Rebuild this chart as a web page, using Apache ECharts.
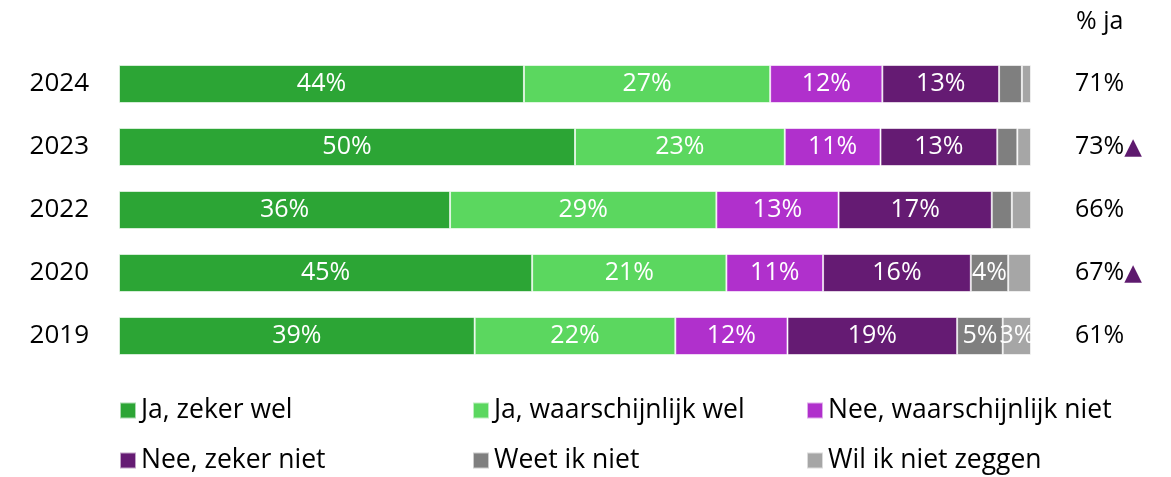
<!DOCTYPE html>
<html>
<head>
<meta charset="utf-8">
<script src="https://cdn.jsdelivr.net/npm/echarts@6/dist/echarts.min.js"></script>
<style>html,body{margin:0;padding:0;background:#fff}#c{width:1171px;height:477px}</style>
</head>
<body>
<div id="c"></div>
<script>
const years = ['2024', '2023', '2022', '2020', '2019'];
const seriesNames = ['Ja, zeker wel', 'Ja, waarschijnlijk wel', 'Nee, waarschijnlijk niet', 'Nee, zeker niet', 'Weet ik niet', 'Wil ik niet zeggen'];
const jaZekerWel = [44.4, 50.0, 36.3, 45.3, 39.0];
const jaWaarschijnlijkWel = [27.0, 23.0, 29.2, 21.3, 22.0];
const neeWaarschijnlijkNiet = [12.3, 10.5, 13.4, 10.6, 12.3];
const neeZekerNiet = [12.8, 12.8, 16.8, 16.2, 18.6];
const weetIkNiet = [2.5, 2.2, 2.2, 4.1, 5.0];
const wilIkNietZeggen = [1.0, 1.5, 2.1, 2.5, 3.1];
const pctJa = ['71%', '73%', '66%', '67%', '61%'];
const significant = [false, true, false, true, false];
const colors = ['#2ca535', '#5bd75f', '#b030cc', '#651b73', '#7f7f7f', '#a6a6a6'];

const values = [jaZekerWel, jaWaarschijnlijkWel, neeWaarschijnlijkNiet, neeZekerNiet, weetIkNiet, wilIkNietZeggen];
const FONT = 'Open Sans';

const series = values.map((arr, i) => ({
  name: seriesNames[i],
  type: 'bar',
  stack: 'total',
  barWidth: 38,
  data: arr,
  itemStyle: { color: colors[i], borderColor: 'rgba(255,255,255,0.6)', borderWidth: 1 },
  label: {
    show: true,
    position: 'inside',
    color: '#fff',
    fontFamily: FONT,
    fontSize: 25,
    formatter: p => p.value >= 3 ? Math.round(p.value) + '%' : ''
  }
}));

const legendPos = [
  [119, 397], [472, 397], [806, 397],
  [119, 447], [472, 447], [806, 447]
];
const legends = seriesNames.map((n, i) => ({
  data: [n],
  left: legendPos[i][0],
  top: legendPos[i][1],
  icon: 'rect',
  itemWidth: 16,
  itemHeight: 16,
  padding: 0,
  selectedMode: false,
  textStyle: { fontFamily: FONT, fontSize: 26.5, color: '#000', padding: [0, 0, 0, 0] }
}));

const chart = echarts.init(document.getElementById('c'));
chart.setOption({
  animation: false,
  title: {
    text: '% ja',
    left: 1071,
    top: 4,
    textStyle: { fontFamily: FONT, fontSize: 25, fontWeight: 'normal', color: '#000' }
  },
  legend: legends,
  grid: { left: 119, right: 140, top: 52.5, height: 315 },
  xAxis: {
    type: 'value', min: 0, max: 100, show: false
  },
  yAxis: [
    {
      type: 'category', data: years, inverse: true,
      axisLine: { show: false }, axisTick: { show: false },
      axisLabel: { fontFamily: FONT, fontSize: 26, color: '#000', margin: 30 }
    },
    {
      type: 'category', data: years, inverse: true, position: 'right',
      axisLine: { show: false }, axisTick: { show: false },
      axisLabel: {
        margin: 44, align: 'left',
        formatter: (v, idx) => '{v|' + pctJa[idx] + '}' + (significant[idx] ? '{t|▲}' : ''),
        rich: {
          v: { fontFamily: FONT, fontSize: 25, color: '#000' },
          t: { fontFamily: 'DejaVu Sans', fontSize: 23, color: '#5e1a6e', padding: [2, 0, 0, 0] }
        }
      }
    }
  ],
  series: series
});
</script>
</body>
</html>
